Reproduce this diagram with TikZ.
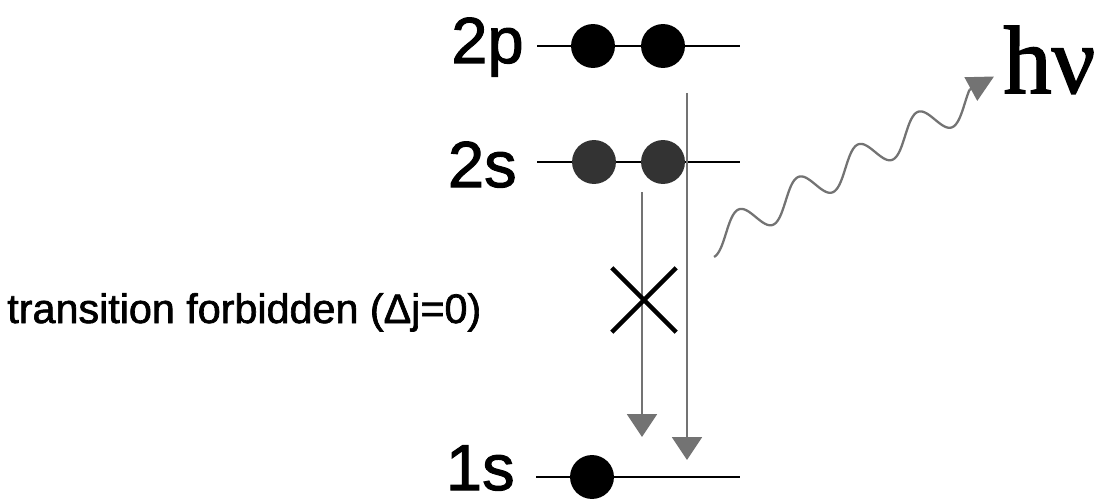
\documentclass[tikz,border=0pt]{standalone}
\usepackage{fontspec}
\setmainfont{Liberation Sans}[FakeBold=1.6]
\newfontfamily\hvfont{Liberation Serif}[FakeBold=1.6]
\usetikzlibrary{arrows.meta,shapes.misc}
\begin{document}
\begin{tikzpicture}[x=0.02cm,y=-0.02cm,
  levelline/.style={line width=1.7pt},
  electron/.style={circle,fill=black,inner sep=0pt,minimum size=25pt},
  grayelectron/.style={electron,fill=black!80},
  lab/.style={font=\fontsize{37}{40}\selectfont,inner sep=0pt,anchor=base east},
  decay/.style={draw=black!55,line width=1.3pt,-{Triangle[width=17pt,length=13pt]}},
  wave/.style={draw=black!55,line width=1.3pt},
  wavetip/.style={draw=black!55,line width=1.3pt,-{Triangle[width=15pt,length=15pt]}},
  crossmark/.style={cross out,draw,line width=2.6pt,minimum size=34pt,inner sep=0pt}]
\useasboundingbox (0,0) rectangle (1102,500);
% levels
\coordinate (l2pL) at (537,46);  \coordinate (l2pR) at (740,46);
\coordinate (l2sL) at (537,162); \coordinate (l2sR) at (740,162);
\coordinate (l1sL) at (536,477); \coordinate (l1sR) at (740,477);
\draw[levelline] (l2pL) -- (l2pR);
\draw[levelline] (l2sL) -- (l2sR);
\draw[levelline] (l1sL) -- (l1sR);
% electrons
\node[electron] (p1) at (593,46) {};
\node[electron] (p2) at (663,46) {};
\node[grayelectron] (s1) at (594,162) {};
\node[grayelectron] (s2) at (663,162) {};
\node[electron] (g1) at (592,477) {};
% labels
\node[lab] (t2p) at (524,63) {2p};
\node[lab] (t2s) at (517,187) {2s};
\node[lab] (t1s) at (515,490) {1s};
\node[anchor=base west,inner sep=0pt,font=\fontsize{23.5}{26}\selectfont] (forb) at (7,323) {transition forbidden (Δj=0)};
\node[anchor=base west,inner sep=0pt,font=\hvfont\fontsize{55}{60}\selectfont] (hv) at (1003,93) {hν};
% decay arrows
\coordinate (d1s) at (642,192); \coordinate (d1e) at (642,437);
\coordinate (d2s) at (687,93);  \coordinate (d2e) at (687,460);
\draw[decay] (d1s) -- (d1e);
\draw[decay] (d2s) -- (d2e);
% forbidden cross
\node[crossmark] (xx) at (644,300) {};
% photon
\draw[wave] plot[domain=-90:1480,samples=400,smooth,variable=\t]
  ({756+0.878*(-34.2+0.188889*\t+4.75*sin(\t))-0.478*15*sin(\t)},
   {217-0.478*(-34.2+0.188889*\t+4.75*sin(\t))-0.878*15*sin(\t)});
\coordinate (wend) at (969.5,89.8);
\coordinate (wtip) at (994,76.5);
\draw[wavetip] (wend) -- (wtip);
\end{tikzpicture}
\end{document}
